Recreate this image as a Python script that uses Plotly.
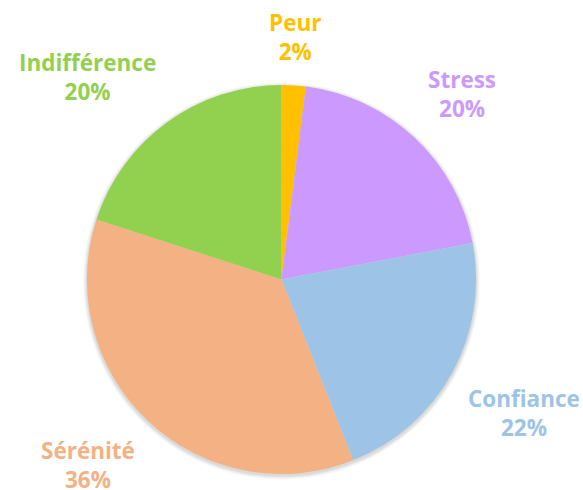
import math
import plotly.graph_objects as go

# Emotional states and their share of responses (%)
labels = ["Peur", "Stress", "Confiance", "Sérénité", "Indifférence"]
values = [2, 20, 22, 36, 20]
colors = ["#FFC000", "#CC99FF", "#9DC3E6", "#F4B183", "#92D050"]

W, H = 583, 490
cx, cy, R = 281.5, 279.5, 194.5  # pie centre and radius in pixels
gap = 16                          # distance from rim to the label box

dom_x = [(cx - R) / W, (cx + R) / W]
dom_y = [1 - (cy + R) / H, 1 - (cy - R) / H]

fig = go.Figure(
    go.Pie(
        labels=labels,
        values=values,
        marker=dict(colors=colors, line=dict(width=0)),
        sort=False,
        direction="clockwise",
        rotation=0,
        textinfo="none",
        hoverinfo="label+percent",
        showlegend=False,
        domain=dict(x=dom_x, y=dom_y),
    )
)

# Soft drop shadow under the pie: a few faint rings, nudged slightly down
shapes = []
for k, op in [(4, 0.05), (3, 0.07), (2, 0.09), (1, 0.12)]:
    r = R + k
    off = 1.5
    shapes.append(
        dict(
            type="circle",
            xref="paper",
            yref="paper",
            x0=(cx - r) / W,
            x1=(cx + r) / W,
            y0=1 - (cy + off + r) / H,
            y1=1 - (cy + off - r) / H,
            fillcolor="#808080",
            opacity=op,
            line=dict(width=0),
            layer="below",
        )
    )

# Place each label just outside the rim, along the middle of its slice
total = sum(values)
cum = 0
annotations = []
for lab, val, col in zip(labels, values, colors):
    mid = (cum + val / 2) / total * 2 * math.pi
    cum += val
    s, c = math.sin(mid), math.cos(mid)
    px = cx + s * (R + gap)
    py = cy - c * (R + gap)
    xa = "left" if s > 0.3 else ("right" if s < -0.3 else "center")
    ya = "bottom" if c > 0.3 else ("top" if c < -0.3 else "middle")
    pct = round(val / total * 100)
    annotations.append(
        dict(
            x=px / W,
            y=1 - py / H,
            xref="paper",
            yref="paper",
            xanchor=xa,
            yanchor=ya,
            text=f"<b>{lab}<br>{pct}%</b>",
            showarrow=False,
            align="center",
            font=dict(family="Open Sans", size=22.5, color=col),
        )
    )

fig.update_layout(
    width=W,
    height=H,
    margin=dict(l=0, r=0, t=0, b=0),
    paper_bgcolor="white",
    plot_bgcolor="white",
    annotations=annotations,
    shapes=shapes,
)

fig.write_html("out.html")
